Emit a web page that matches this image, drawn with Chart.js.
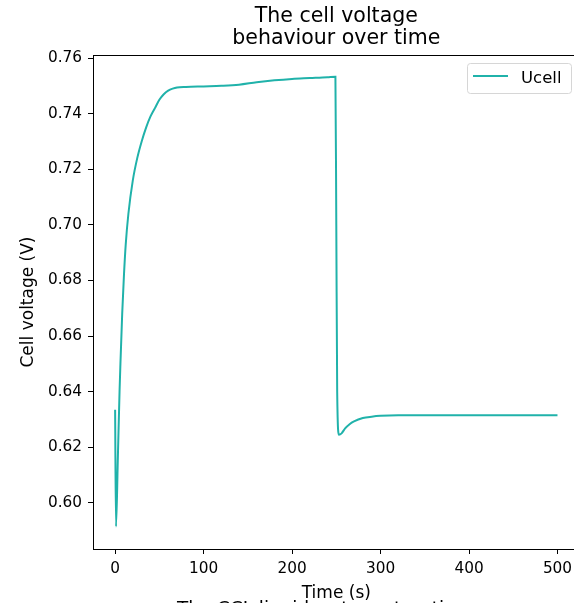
<!DOCTYPE html>
<html>
<head>
<meta charset="utf-8">
<script src="https://cdn.jsdelivr.net/npm/chart.js@4.4.1/dist/chart.umd.min.js"></script>
<style>
  html, body { margin: 0; padding: 0; background: #fff; overflow: hidden; width: 574px; height: 603px; }
  #wrap { position: relative; width: 582px; height: 603px; }
</style>
</head>
<body>
<div id="wrap"><canvas id="c" width="582" height="603"></canvas></div>
<script>
// ---- data ----
const chartTitle = ["The cell voltage", "behaviour over time"];
const xLabel = "Time (s)";
const yLabel = "Cell voltage (V)";
const seriesName = "Ucell";
const belowText = "The CCL liquid water saturation";

const times = [0, 1, 3, 5, 6, 8, 10, 12, 15, 20, 25, 30, 35, 40, 45, 50, 55, 60, 65, 70, 80, 100, 120, 140, 160, 180, 200, 220, 240, 249, 250, 251, 253, 256, 260, 265, 270, 280, 290, 300, 320, 350, 400, 450, 500];
const ucell = [0.6335, 0.5915, 0.615, 0.640, 0.650, 0.668, 0.682, 0.693, 0.704, 0.716, 0.724, 0.730, 0.735, 0.739, 0.742, 0.745, 0.747, 0.7483, 0.749, 0.7494, 0.7496, 0.7498, 0.7500, 0.7504, 0.7513, 0.7520, 0.7525, 0.7528, 0.7531, 0.7533, 0.700, 0.640, 0.6245, 0.6250, 0.6268, 0.6283, 0.6293, 0.6305, 0.6310, 0.6313, 0.6315, 0.6315, 0.6315, 0.6315, 0.6315];

const xTicks = [0, 100, 200, 300, 400, 500];
const yTicks = [0.60, 0.62, 0.64, 0.66, 0.68, 0.70, 0.72, 0.74, 0.76];

const lineColor = "#20b2aa";
const FONT = "'DejaVu Sans', sans-serif";

const points = times.map((t, i) => ({ x: t, y: ucell[i] }));

const framePlugin = {
  id: 'frame',
  afterDraw(chart) {
    const { ctx, chartArea: a } = chart;
    ctx.save();
    ctx.strokeStyle = '#000';
    ctx.lineWidth = 1;
    ctx.beginPath();
    ctx.moveTo(a.left, a.top + 0.5);
    ctx.lineTo(a.right, a.top + 0.5);
    ctx.moveTo(a.right - 0.5, a.top);
    ctx.lineTo(a.right - 0.5, a.bottom);
    ctx.stroke();

    // title, centred over the plotting area (matplotlib style)
    const cx = (a.left + a.right) / 2;
    ctx.fillStyle = '#000';
    ctx.font = "20.5px " + FONT;
    ctx.textAlign = 'center';
    ctx.textBaseline = 'alphabetic';
    ctx.fillText(chartTitle[0], cx, 21.7);
    ctx.fillText(chartTitle[1], cx, 44.3);

    // legend (matplotlib style, upper right)
    const bx = 467, by = 63, bw = 104, bh = 30;
    ctx.beginPath();
    ctx.roundRect(bx + 0.5, by + 0.5, bw, bh, 3);
    ctx.fillStyle = 'rgba(255,255,255,0.8)';
    ctx.fill();
    ctx.strokeStyle = '#d6d6d6';
    ctx.lineWidth = 1;
    ctx.stroke();
    ctx.beginPath();
    ctx.moveTo(473, 76);
    ctx.lineTo(508, 76);
    ctx.strokeStyle = lineColor;
    ctx.lineWidth = 2;
    ctx.stroke();
    ctx.fillStyle = '#000';
    ctx.font = "16.5px " + FONT;
    ctx.textAlign = 'left';
    ctx.fillText(chart.data.datasets[0].label, 521, 83);

    // clipped text of the next figure below
    ctx.font = "18.4px " + FONT;
    ctx.textAlign = 'center';
    ctx.fillText(belowText, 322, 614);
    ctx.restore();
  }
};

new Chart(document.getElementById('c'), {
  type: 'line',
  data: {
    datasets: [{
      label: seriesName,
      data: points,
      borderColor: lineColor,
      backgroundColor: lineColor,
      borderWidth: 2,
      pointRadius: 0,
      cubicInterpolationMode: 'monotone',
      fill: false
    }]
  },
  options: {
    responsive: false,
    animation: false,
    devicePixelRatio: 1,
    layout: { padding: { left: 0, right: 2.4, top: 55, bottom: 0 } },
    plugins: {
      legend: { display: false },
      tooltip: { enabled: false },
      title: { display: false }
    },
    scales: {
      x: {
        type: 'linear',
        min: -25,
        max: 525,
        afterBuildTicks: s => { s.ticks = xTicks.map(v => ({ value: v })); },
        afterFit: s => { s.height = 54; },
        ticks: {
          autoSkip: false, maxRotation: 0, color: '#000', padding: 6,
          font: { family: FONT, size: 15.3 },
          callback: v => String(v)
        },
        grid: { drawOnChartArea: false, drawTicks: true, tickLength: 5, tickColor: '#000', tickWidth: 1 },
        border: { display: true, color: '#000', width: 1 },
        title: {
          display: true, text: xLabel, color: '#000',
          font: { family: FONT, size: 17, lineHeight: 1 },
          padding: { top: 0, bottom: 0.5 }
        }
      },
      y: {
        type: 'linear',
        min: 0.5834,
        max: 0.7611,
        afterBuildTicks: s => { s.ticks = yTicks.map(v => ({ value: v })); },
        afterFit: s => { s.width = 93; },
        ticks: {
          autoSkip: false, color: '#000', padding: 6,
          font: { family: FONT, size: 15.3 },
          callback: v => Number(v).toFixed(2)
        },
        grid: { drawOnChartArea: false, drawTicks: true, tickLength: 5, tickColor: '#000', tickWidth: 1 },
        border: { display: true, color: '#000', width: 1 },
        title: {
          display: true, text: yLabel, color: '#000',
          font: { family: FONT, size: 17, lineHeight: 1 },
          padding: { top: 20.5, bottom: 0 }
        }
      }
    }
  },
  plugins: [framePlugin]
});
</script>
</body>
</html>
